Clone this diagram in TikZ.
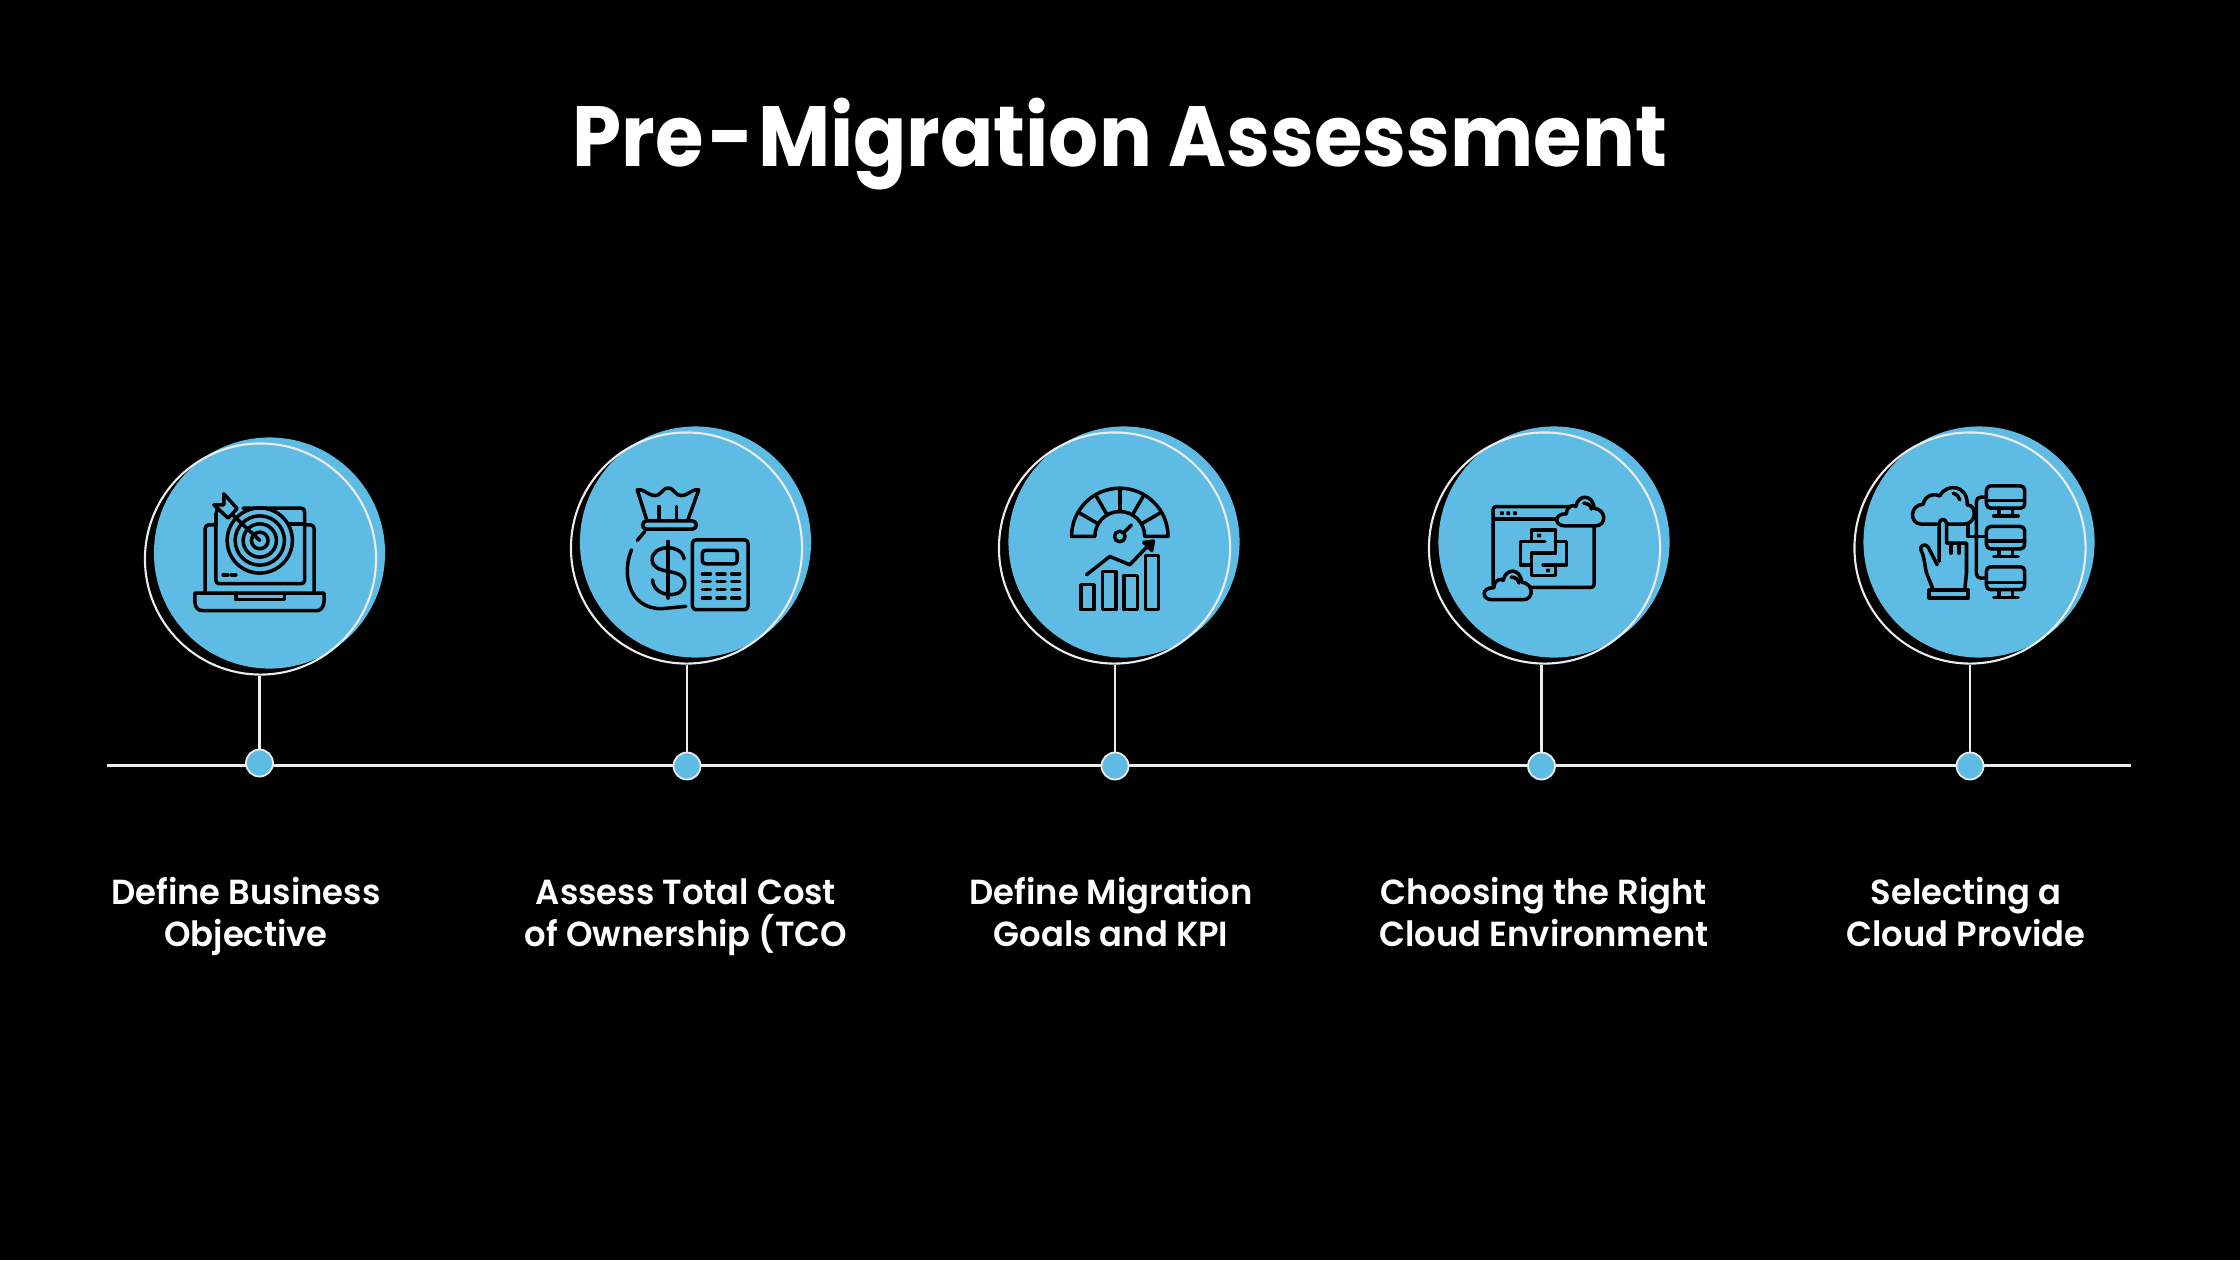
\documentclass[tikz,border=0pt]{standalone}
\usepackage{fontspec}
\setmainfont{Poppins}
\newfontfamily\titlefont{Poppins}[FakeStretch=0.92]
\newfontfamily\capfont{Poppins SemiBold}[FakeStretch=0.97]
\definecolor{skyfill}{HTML}{5EBCE4}
\definecolor{ringline}{HTML}{ECECEC}
\begin{document}
\begin{tikzpicture}[
    x=0.01cm, y=-0.01cm,
    disc/.style={circle, fill=skyfill, minimum size=2.31cm, inner sep=0pt},
    ring/.style={circle, draw=ringline, line width=0.6pt, minimum size=2.31cm, inner sep=0pt},
    dot/.style={circle, fill=skyfill, draw=ringline, line width=0.5pt, minimum size=0.27cm, inner sep=0pt},
    stem/.style={draw=ringline, line width=0.6pt},
    caption/.style={white, align=center, anchor=base, font=\fontsize{9.9pt}{11.7pt}\capfont},
    iconbox/.style 2 args={shift={(#1,#2)}, x=0.003333cm, y=-0.003333cm},
    iconline/.style={draw=black, line width=1pt, line cap=round, line join=round},
]

% Sfondo
\fill[black] (0,0) rectangle (2240,1260);

% Titolo
\node[white, anchor=base, font=\fontsize{24.3pt}{30pt}\titlefont\bfseries] (title) at (1120,166) {Pre\kern.05em-\kern.05em Migration Assessment};

% Linea di base
\coordinate (lineL) at (107,765.5);
\coordinate (lineR) at (2131,765.5);
\draw[stem] (lineL) -- (lineR);

% Cerchi
\node[disc] (discA) at (269.5,553) {};
\node[disc] (discB) at (695.5,542) {};
\node[disc] (discC) at (1124,542) {};
\node[disc] (discD) at (1554,542) {};
\node[disc] (discE) at (1979,542) {};
\node[ring] (ringA) at (260.5,559) {};
\node[ring] (ringB) at (686.5,548) {};
\node[ring] (ringC) at (1114.5,548) {};
\node[ring] (ringD) at (1544.5,548) {};
\node[ring] (ringE) at (1970,548) {};

% Punti
\node[dot] (dotA) at (259.5,763) {};
\node[dot] (dotB) at (687,766) {};
\node[dot] (dotC) at (1115,766) {};
\node[dot] (dotD) at (1541.5,766) {};
\node[dot] (dotE) at (1970,766) {};
\draw[stem] (dotA.north |- ringA.south) -- (dotA);
\draw[stem] (dotB.north |- ringB.south) -- (dotB);
\draw[stem] (dotC.north |- ringC.south) -- (dotC);
\draw[stem] (dotD.north |- ringD.south) -- (dotD);
\draw[stem] (dotE.north |- ringE.south) -- (dotE);

% Etichette
\node[caption] (labelA) at (246,946) {Define Business\\Objective};
\node[caption] (labelB) at (686,946) {Assess Total Cost\\of Ownership (TCO};
\node[caption] (labelC) at (1111,946) {Define Migration\\Goals and KPI};
\node[caption] (labelD) at (1544,946) {Choosing the Right\\Cloud Environment};
\node[caption] (labelE) at (1966,946) {Selecting a\\Cloud Provide};

% Icona laptop
\begin{scope}[iconbox={120}{410}]
\draw[iconline] (225,550) -- (613,550) -- (613,575) .. controls (613,595) and (600,603) .. (590,603) -- (250,603) .. controls (235,603) and (225,595) .. (225,575) -- cycle;
\draw[iconline] (348,550) -- (348,570) -- (495,570) -- (495,550);
\draw[iconline, rounded corners=1pt] (256,548) -- (256,345) -- (285,345);
\draw[iconline, rounded corners=1pt] (583,548) -- (583,345) -- (558,345);
\draw[iconline, rounded corners=1pt] (288,310) -- (288,522) -- (555,522) -- (555,295) -- (370,295);
\draw[iconline] (505,342) -- (555,342);
\draw[iconline] (420,392) circle (98);
\draw[iconline] (420,392) circle (74);
\draw[iconline] (420,392) circle (50);
\draw[iconline] (420,392) circle (25);
\draw[iconline] (420,392) -- (335,312);
\draw[iconline, fill=skyfill] (312,252) -- (352,296) -- (325,325) -- (282,285) -- (312,285) -- cycle;
\draw[iconline] (290,290) -- (290,345);
\draw[iconline] (310,495) -- (324,495);
\draw[iconline] (334,495) -- (348,495);
\end{scope}

% Icona sacco e calcolatrice
\begin{scope}[iconbox={550}{410}]
\draw[iconline] (290,328) -- (262,240) .. controls (285,235) and (300,265) .. (325,255) .. controls (340,245) and (345,232) .. (355,235) .. controls (365,232) and (370,245) .. (385,255) .. controls (410,265) and (425,235) .. (447,240) -- (415,328);
\draw[iconline, rounded corners=1.2pt] (278,333) rectangle (440,358);
\draw[iconline] (327,290) -- (327,328);
\draw[iconline] (380,290) -- (380,328);
\draw[iconline] (285,365) -- (262,392);
\draw[iconline] (245,420) .. controls (215,490) and (235,597) .. (335,597) -- (408,590);
\draw[iconline] (403,447) .. controls (395,400) and (305,405) .. (307,450) .. controls (308,500) and (405,470) .. (405,520) .. controls (405,570) and (310,565) .. (308,510);
\draw[iconline] (355,395) -- (355,565);
\draw[iconline, rounded corners=1pt] (428,390) rectangle (595,600);
\draw[iconline, rounded corners=0.8pt] (458,422) rectangle (562,462);
\draw[iconline] (458,492) -- (482,492) (502,492) -- (526,492) (546,492) -- (570,492);
\draw[iconline] (458,516) -- (482,516) (502,516) -- (526,516) (546,516) -- (570,516);
\draw[iconline] (458,540) -- (482,540) (502,540) -- (526,540) (546,540) -- (570,540);
\draw[iconline] (458,565) -- (482,565) (502,565) -- (526,565) (546,565) -- (570,565);
\end{scope}

% Icona indicatore e grafico
\begin{scope}[iconbox={980}{410}]
\draw[iconline] (275,380) arc[start angle=180, end angle=360, radius=145] -- (495,380) arc[start angle=360, end angle=180, radius=75] -- cycle;
\draw[iconline] (420,305) -- (420,235);
\draw[iconline] (382,315) -- (350,260) (458,315) -- (490,260);
\draw[iconline] (355,342) -- (300,310) (485,342) -- (540,310);
\draw[iconline] (420,380) circle (16);
\draw[iconline] (432,368) -- (455,345);
\draw[iconline] (303,525) rectangle (343,600);
\draw[iconline] (368,485) rectangle (408,600);
\draw[iconline] (433,497) rectangle (473,600);
\draw[iconline] (497,437) rectangle (537,600);
\draw[iconline] (320,495) -- (390,440) -- (450,465) -- (515,397);
\draw[iconline, fill=black] (492,398) -- (521,394) -- (516,422) -- cycle;
\end{scope}

% Icona finestra e nuvole
\begin{scope}[iconbox={1410}{410}]
\draw[iconline, rounded corners=0.8pt] (250,290) rectangle (553,533);
\draw[iconline] (250,327) -- (450,327);
\draw[iconline, fill=black] (276,310) circle (2) (295,310) circle (2) (315,310) circle (2);
\draw[iconline] (365,393) -- (365,360) -- (437,360) -- (437,430) -- (365,430) -- (365,465) -- (332,465) -- (332,395) -- (405,395);
\draw[iconline] (437,395) -- (470,395) -- (470,465) -- (400,465);
\draw[iconline] (437,465) -- (437,497) -- (365,497) -- (365,465);
\draw[iconline, fill=black] (388,377) circle (2) (415,482) circle (2);
\draw[iconline, fill=skyfill] (465,348) .. controls (432,348) and (432,310) .. (470,312) .. controls (470,290) and (490,282) .. (498,290) .. controls (505,252) and (550,252) .. (553,295) .. controls (592,300) and (590,348) .. (558,348) -- cycle;
\draw[iconline] (522,280) .. controls (535,280) and (545,288) .. (545,298);
\draw[iconline, fill=skyfill, shift={(-218,222)}] (465,348) .. controls (432,348) and (432,310) .. (470,312) .. controls (470,290) and (490,282) .. (498,290) .. controls (505,252) and (550,252) .. (553,295) .. controls (592,300) and (590,348) .. (558,348) -- cycle;
\draw[iconline, shift={(-218,222)}] (522,280) .. controls (535,280) and (545,288) .. (545,298);
\end{scope}

% Icona nuvola, mano e monitor
\begin{scope}[iconbox={1840}{410}]
\draw[iconline, rounded corners=1.2pt] (440,228) rectangle (555,295);
\draw[iconline] (440,272) -- (555,272);
\draw[iconline] (478,295) -- (478,317) (518,295) -- (518,317) (462,318) -- (535,318);
\draw[iconline, rounded corners=1.2pt] (440,350) rectangle (555,417);
\draw[iconline] (440,394) -- (555,394);
\draw[iconline] (478,417) -- (478,439) (518,417) -- (518,439) (462,440) -- (535,440);
\draw[iconline, rounded corners=1.2pt] (440,471) rectangle (555,540);
\draw[iconline] (440,518) -- (555,518);
\draw[iconline] (478,540) -- (478,562) (518,540) -- (518,562) (462,564) -- (535,564);
\draw[iconline, rounded corners=1.2pt] (440,262) -- (410,262) -- (410,505) -- (440,505);
\draw[iconline] (385,343) -- (385,380) -- (440,380);
\draw[iconline] (290,343) -- (245,343) .. controls (208,343) and (208,285) .. (250,283) .. controls (255,255) and (285,250) .. (300,258) .. controls (320,218) and (385,225) .. (382,285) .. controls (412,285) and (412,343) .. (372,343) -- (325,343);
\draw[iconline] (340,250) .. controls (350,253) and (358,260) .. (360,270);
\draw[iconline] (298,455) -- (298,340) .. controls (300,325) and (318,325) .. (320,340) -- (320,400) -- (380,400) -- (380,490) -- (375,540);
\draw[iconline] (333,400) -- (333,430) (358,400) -- (358,430);
\draw[iconline] (292,465) -- (265,412) .. controls (258,400) and (235,405) .. (245,425) .. controls (255,445) and (255,480) .. (262,495) -- (280,540);
\draw[iconline] (268,541) rectangle (385,565);
\end{scope}

\end{tikzpicture}
\end{document}
